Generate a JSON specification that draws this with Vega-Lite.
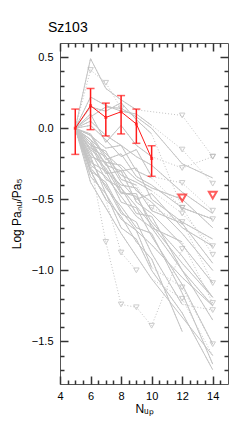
{
  "$schema": "https://vega.github.io/schema/vega-lite/v6.json",
  "autosize": "none",
  "width": 168,
  "height": 341,
  "padding": {"left": 60, "top": 43, "right": 12, "bottom": 44},
  "background": "white",
  "config": {
    "view": {"stroke": "#555555", "strokeWidth": 1},
    "axis": {"grid": false, "domain": false, "zindex": 1, "labelColor": "#000000", "titleColor": "#000000", "labelFont": "Liberation Sans", "titleFont": "Liberation Sans", "titleFontWeight": "normal", "labelFontSize": 11, "titleFontSize": 12}
  },
  "title": {"text": "Sz103", "anchor": "start", "frame": "group", "dx": -12, "offset": 7, "fontSize": 14, "fontWeight": "normal", "font": "Liberation Sans", "color": "#000000"},
  "datasets": {
    "g": [
      {"s":1,"x":5,"y":0,"u":0},{"s":1,"x":6,"y":0.49,"u":0},{"s":1,"x":7,"y":0.28,"u":0},{"s":1,"x":8,"y":0.2,"u":0},{"s":1,"x":9,"y":0.13,"u":0},{"s":1,"x":12,"y":0.09,"u":1},{"s":1,"x":14,"y":-0.2,"u":1},
      {"s":2,"x":5,"y":0,"u":0},{"s":2,"x":6,"y":0.41,"u":1},{"s":2,"x":7,"y":0.32,"u":1},{"s":2,"x":8,"y":0.14,"u":1},
      {"s":3,"x":5,"y":0,"u":0},{"s":3,"x":6,"y":0.22,"u":0},{"s":3,"x":7,"y":0.16,"u":0},{"s":3,"x":8,"y":0.12,"u":0},{"s":3,"x":9,"y":0.1,"u":0},{"s":3,"x":10,"y":0.02,"u":0},{"s":3,"x":12,"y":-0.15,"u":1},{"s":3,"x":14,"y":-0.39,"u":1},
      {"s":4,"x":5,"y":0,"u":0},{"s":4,"x":6,"y":0.1,"u":0},{"s":4,"x":7,"y":-0.1,"u":0},{"s":4,"x":8,"y":0.02,"u":0},{"s":4,"x":9,"y":-0.12,"u":0},{"s":4,"x":10,"y":-0.2,"u":0},{"s":4,"x":12,"y":-0.28,"u":1},{"s":4,"x":14,"y":-0.2,"u":1},
      {"s":5,"x":5,"y":0,"u":0},{"s":5,"x":6,"y":0.02,"u":0},{"s":5,"x":7,"y":-0.08,"u":0},{"s":5,"x":8,"y":-0.2,"u":0},{"s":5,"x":9,"y":-0.15,"u":0},{"s":5,"x":10,"y":-0.34,"u":0},{"s":5,"x":12,"y":-0.385,"u":1},{"s":5,"x":14,"y":-0.58,"u":1},
      {"s":6,"x":5,"y":0,"u":0},{"s":6,"x":6,"y":-0.05,"u":0},{"s":6,"x":7,"y":-0.22,"u":0},{"s":6,"x":8,"y":-0.18,"u":0},{"s":6,"x":9,"y":-0.34,"u":0},{"s":6,"x":10,"y":-0.4,"u":0},{"s":6,"x":12,"y":-0.56,"u":0},{"s":6,"x":14,"y":-0.64,"u":0},
      {"s":7,"x":5,"y":0,"u":0},{"s":7,"x":6,"y":-0.08,"u":0},{"s":7,"x":7,"y":-0.26,"u":0},{"s":7,"x":8,"y":-0.3,"u":0},{"s":7,"x":9,"y":-0.28,"u":0},{"s":7,"x":10,"y":-0.5,"u":0},{"s":7,"x":12,"y":-0.66,"u":0},{"s":7,"x":14,"y":-0.78,"u":0},
      {"s":8,"x":5,"y":0,"u":0},{"s":8,"x":6,"y":-0.14,"u":0},{"s":8,"x":7,"y":-0.2,"u":0},{"s":8,"x":8,"y":-0.38,"u":0},{"s":8,"x":9,"y":-0.5,"u":0},{"s":8,"x":10,"y":-0.46,"u":0},{"s":8,"x":12,"y":-0.7,"u":0},{"s":8,"x":14,"y":-0.83,"u":0},
      {"s":9,"x":5,"y":0,"u":0},{"s":9,"x":6,"y":-0.12,"u":0},{"s":9,"x":7,"y":-0.32,"u":0},{"s":9,"x":8,"y":-0.3,"u":0},{"s":9,"x":9,"y":-0.52,"u":0},{"s":9,"x":10,"y":-0.6,"u":0},{"s":9,"x":12,"y":-0.82,"u":0},{"s":9,"x":14,"y":-1.09,"u":0},
      {"s":10,"x":5,"y":0,"u":0},{"s":10,"x":6,"y":-0.2,"u":0},{"s":10,"x":7,"y":-0.24,"u":0},{"s":10,"x":8,"y":-0.45,"u":0},{"s":10,"x":9,"y":-0.48,"u":0},{"s":10,"x":10,"y":-0.66,"u":0},{"s":10,"x":12,"y":-0.9,"u":0},{"s":10,"x":14,"y":-1.19,"u":0},
      {"s":11,"x":5,"y":0,"u":0},{"s":11,"x":6,"y":-0.16,"u":0},{"s":11,"x":7,"y":-0.36,"u":0},{"s":11,"x":8,"y":-0.42,"u":0},{"s":11,"x":9,"y":-0.6,"u":0},{"s":11,"x":10,"y":-0.62,"u":0},{"s":11,"x":12,"y":-1.0,"u":0},{"s":11,"x":14,"y":-1.25,"u":0},
      {"s":12,"x":5,"y":0,"u":0},{"s":12,"x":6,"y":-0.24,"u":0},{"s":12,"x":7,"y":-0.3,"u":0},{"s":12,"x":8,"y":-0.52,"u":0},{"s":12,"x":9,"y":-0.56,"u":0},{"s":12,"x":10,"y":-0.76,"u":0},{"s":12,"x":12,"y":-1.1,"u":0},{"s":12,"x":14,"y":-1.52,"u":0},
      {"s":13,"x":5,"y":0,"u":0},{"s":13,"x":6,"y":-0.22,"u":0},{"s":13,"x":7,"y":-0.42,"u":0},{"s":13,"x":8,"y":-0.55,"u":0},{"s":13,"x":9,"y":-0.7,"u":0},{"s":13,"x":10,"y":-0.74,"u":0},{"s":13,"x":12,"y":-1.16,"u":0},{"s":13,"x":14,"y":-1.66,"u":0},
      {"s":14,"x":5,"y":0,"u":0},{"s":14,"x":6,"y":-0.28,"u":0},{"s":14,"x":7,"y":-0.4,"u":0},{"s":14,"x":8,"y":-0.6,"u":0},{"s":14,"x":9,"y":-0.66,"u":0},{"s":14,"x":10,"y":-0.88,"u":0},{"s":14,"x":12,"y":-1.24,"u":0},{"s":14,"x":14,"y":-1.28,"u":1},
      {"s":15,"x":5,"y":0,"u":0},{"s":15,"x":6,"y":-0.3,"u":0},{"s":15,"x":7,"y":-0.5,"u":0},{"s":15,"x":8,"y":-0.62,"u":0},{"s":15,"x":9,"y":-0.8,"u":0},{"s":15,"x":10,"y":-0.92,"u":0},{"s":15,"x":12,"y":-1.43,"u":0},
      {"s":16,"x":5,"y":0,"u":0},{"s":16,"x":6,"y":-0.34,"u":0},{"s":16,"x":7,"y":-0.46,"u":0},{"s":16,"x":8,"y":-0.7,"u":0},{"s":16,"x":9,"y":-0.78,"u":0},{"s":16,"x":10,"y":-1.0,"u":0},{"s":16,"x":12,"y":-1.3,"u":0},{"s":16,"x":14,"y":-1.7,"u":0},
      {"s":17,"x":5,"y":0,"u":0},{"s":17,"x":6,"y":-0.25,"u":0},{"s":17,"x":7,"y":-0.8,"u":1},{"s":17,"x":8,"y":-1.24,"u":1},{"s":17,"x":9,"y":-1.26,"u":1},{"s":17,"x":10,"y":-1.39,"u":1},{"s":17,"x":12,"y":-0.85,"u":1},
      {"s":18,"x":5,"y":0,"u":0},{"s":18,"x":6,"y":-0.3,"u":0},{"s":18,"x":7,"y":-0.5,"u":0},{"s":18,"x":8,"y":-0.875,"u":1},{"s":18,"x":9,"y":-1.0,"u":1},
      {"s":20,"x":5,"y":0,"u":0},{"s":20,"x":6,"y":-0.05,"u":0},{"s":20,"x":7,"y":-0.14,"u":0},{"s":20,"x":8,"y":-0.12,"u":0},{"s":20,"x":9,"y":-0.3,"u":0},{"s":20,"x":10,"y":-0.35,"u":0},{"s":20,"x":12,"y":-0.56,"u":1},{"s":20,"x":14,"y":-0.89,"u":1},
      {"s":21,"x":5,"y":0,"u":0},{"s":21,"x":6,"y":-0.1,"u":0},{"s":21,"x":7,"y":-0.3,"u":0},{"s":21,"x":8,"y":-0.4,"u":0},{"s":21,"x":9,"y":-0.42,"u":0},{"s":21,"x":10,"y":-0.58,"u":0},{"s":21,"x":12,"y":-0.67,"u":0},{"s":21,"x":14,"y":-0.95,"u":0},
      {"s":22,"x":5,"y":0,"u":0},{"s":22,"x":6,"y":-0.18,"u":0},{"s":22,"x":7,"y":-0.28,"u":0},{"s":22,"x":8,"y":-0.46,"u":0},{"s":22,"x":9,"y":-0.46,"u":0},{"s":22,"x":10,"y":-0.7,"u":0},{"s":22,"x":12,"y":-0.8,"u":0},{"s":22,"x":14,"y":-1.23,"u":1},
      {"s":23,"x":5,"y":0,"u":0},{"s":23,"x":6,"y":-0.08,"u":0},{"s":23,"x":7,"y":-0.18,"u":0},{"s":23,"x":8,"y":-0.28,"u":0},{"s":23,"x":9,"y":-0.44,"u":0},{"s":23,"x":10,"y":-0.52,"u":0},{"s":23,"x":12,"y":-0.74,"u":0},{"s":23,"x":14,"y":-1.0,"u":0},
      {"s":24,"x":5,"y":0,"u":0},{"s":24,"x":6,"y":-0.26,"u":0},{"s":24,"x":7,"y":-0.34,"u":0},{"s":24,"x":8,"y":-0.48,"u":0},{"s":24,"x":9,"y":-0.62,"u":0},{"s":24,"x":10,"y":-0.7,"u":0},{"s":24,"x":12,"y":-1.0,"u":0},{"s":24,"x":14,"y":-1.35,"u":0},
      {"s":25,"x":5,"y":0,"u":0},{"s":25,"x":6,"y":-0.04,"u":0},{"s":25,"x":7,"y":-0.2,"u":0},{"s":25,"x":8,"y":-0.33,"u":0},{"s":25,"x":9,"y":-0.38,"u":0},{"s":25,"x":10,"y":-0.44,"u":0},{"s":25,"x":12,"y":-0.6,"u":1},{"s":25,"x":14,"y":-0.83,"u":1},
      {"s":26,"x":5,"y":0,"u":0},{"s":26,"x":6,"y":-0.15,"u":0},{"s":26,"x":7,"y":-0.24,"u":0},{"s":26,"x":8,"y":-0.26,"u":0},{"s":26,"x":9,"y":-0.36,"u":0},{"s":26,"x":10,"y":-0.42,"u":0},{"s":26,"x":12,"y":-0.5,"u":0},{"s":26,"x":14,"y":-0.7,"u":0},
      {"s":27,"x":5,"y":0,"u":0},{"s":27,"x":6,"y":0.05,"u":0},{"s":27,"x":7,"y":-0.05,"u":0},{"s":27,"x":8,"y":-0.12,"u":0},{"s":27,"x":9,"y":-0.2,"u":0},{"s":27,"x":10,"y":-0.26,"u":0},{"s":27,"x":12,"y":-0.45,"u":0},{"s":27,"x":14,"y":-0.6,"u":0},
      {"s":28,"x":5,"y":0,"u":0},{"s":28,"x":6,"y":-0.3,"u":0},{"s":28,"x":7,"y":-0.38,"u":0},{"s":28,"x":8,"y":-0.58,"u":0},{"s":28,"x":9,"y":-0.72,"u":0},{"s":28,"x":10,"y":-0.82,"u":0},{"s":28,"x":12,"y":-1.05,"u":0},{"s":28,"x":14,"y":-1.25,"u":0},
      {"s":29,"x":5,"y":0,"u":0},{"s":29,"x":6,"y":-0.1,"u":0},{"s":29,"x":7,"y":-0.25,"u":0},{"s":29,"x":8,"y":-0.42,"u":0},{"s":29,"x":9,"y":-0.55,"u":0},{"s":29,"x":10,"y":-0.68,"u":0},{"s":29,"x":12,"y":-0.95,"u":0},{"s":29,"x":14,"y":-1.19,"u":0},
      {"s":30,"x":5,"y":0,"u":0},{"s":30,"x":6,"y":0.15,"u":0},{"s":30,"x":7,"y":0.12,"u":0},{"s":30,"x":8,"y":0.18,"u":0},{"s":30,"x":9,"y":0.06,"u":0},{"s":30,"x":10,"y":-0.04,"u":0},{"s":30,"x":12,"y":-0.56,"u":1},{"s":30,"x":14,"y":-0.64,"u":1},
      {"s":31,"x":5,"y":0,"u":0},{"s":31,"x":6,"y":0.08,"u":0},{"s":31,"x":7,"y":0.15,"u":0},{"s":31,"x":8,"y":0.14,"u":0},{"s":31,"x":9,"y":0.08,"u":0},{"s":31,"x":10,"y":0.0,"u":0},{"s":31,"x":12,"y":-0.25,"u":0},{"s":31,"x":14,"y":-0.35,"u":0},
      {"s":32,"x":5,"y":0,"u":0},{"s":32,"x":6,"y":-0.38,"u":0},{"s":32,"x":7,"y":-0.56,"u":0},{"s":32,"x":8,"y":-0.74,"u":0},{"s":32,"x":9,"y":-0.9,"u":0},{"s":32,"x":10,"y":-1.06,"u":0},{"s":32,"x":12,"y":-1.2,"u":1},{"s":32,"x":14,"y":-1.6,"u":0},
      {"s":33,"x":5,"y":0,"u":0},{"s":33,"x":6,"y":-0.2,"u":0},{"s":33,"x":7,"y":-0.46,"u":0},{"s":33,"x":8,"y":-0.64,"u":0},{"s":33,"x":9,"y":-0.72,"u":0},{"s":33,"x":10,"y":-0.98,"u":0},{"s":33,"x":12,"y":-1.12,"u":1},{"s":33,"x":14,"y":-1.52,"u":1},
      {"s":34,"x":5,"y":0,"u":0},{"s":34,"x":6,"y":-0.12,"u":0},{"s":34,"x":7,"y":-0.16,"u":0},{"s":34,"x":8,"y":-0.36,"u":0},{"s":34,"x":9,"y":-0.4,"u":0},{"s":34,"x":10,"y":-0.56,"u":1},{"s":34,"x":12,"y":-0.66,"u":1},{"s":34,"x":14,"y":-1.09,"u":1}
    ],
    "r": [
      {"x":5,"y":0.0,"lo":-0.184,"hi":0.135},
      {"x":6,"y":0.159,"lo":-0.01,"hi":0.28},
      {"x":7,"y":0.076,"lo":-0.054,"hi":0.177},
      {"x":8,"y":0.116,"lo":-0.04,"hi":0.23},
      {"x":9,"y":0.03,"lo":-0.106,"hi":0.135},
      {"x":10,"y":-0.213,"lo":-0.338,"hi":-0.123}
    ],
    "rl": [
      {"x":12,"y":-0.49},
      {"x":14,"y":-0.47}
    ]
  },
  "resolve": {"axis": {"x": "independent", "y": "independent"}},
  "layer": [
    {
      "data": {"name": "g"},
      "mark": {"type": "line", "color": "#c4c4c4", "strokeWidth": 1, "strokeDash": [1, 2]},
      "encoding": {
        "x": {"field": "x", "type": "quantitative", "scale": {"domain": [4, 15], "nice": false, "zero": false},
              "axis": {"orient": "bottom", "values": [4, 6, 8, 10, 12, 14], "tickSize": -8, "tickColor": "#333333", "tickWidth": 1.5, "labelPadding": 14, "title": "Nᵤₚ", "titlePadding": 2, "labelFlush": false}},
        "y": {"field": "y", "type": "quantitative", "scale": {"domain": [-1.8, 0.6], "nice": false, "zero": false},
              "axis": {"orient": "left", "values": [-1.5, -1, -0.5, 0, 0.5], "format": ".1f", "tickSize": -8, "tickColor": "#333333", "tickWidth": 1.5, "labelPadding": 15, "title": "Log Paₙᵤ/Pa₅", "titlePadding": 8}},
        "detail": {"field": "s"},
        "order": {"field": "x"}
      }
    },
    {
      "data": {"name": "g"},
      "transform": [{"filter": "datum.u == 0"}],
      "mark": {"type": "line", "color": "#c4c4c4", "strokeWidth": 1},
      "encoding": {
        "x": {"field": "x", "type": "quantitative", "axis": {"orient": "top", "values": [4, 6, 8, 10, 12, 14], "labels": false, "tickSize": -8, "tickColor": "#333333", "tickWidth": 1.5, "title": null}},
        "y": {"field": "y", "type": "quantitative", "axis": {"orient": "right", "values": [-1.5, -1, -0.5, 0, 0.5], "labels": false, "tickSize": -8, "tickColor": "#333333", "tickWidth": 1.5, "title": null}},
        "detail": {"field": "s"},
        "order": {"field": "x"}
      }
    },
    {
      "data": {"name": "g"},
      "transform": [{"filter": "datum.u == 1"}],
      "mark": {"type": "point", "shape": "triangle-down", "color": "#b8b8b8", "filled": false, "size": 30, "strokeWidth": 1},
      "encoding": {
        "x": {"field": "x", "type": "quantitative", "axis": {"orient": "bottom", "values": [4.5, 5, 5.5, 6.5, 7, 7.5, 8.5, 9, 9.5, 10.5, 11, 11.5, 12.5, 13, 13.5, 14.5], "labels": false, "tickSize": -4, "tickColor": "#333333", "tickWidth": 1.5, "title": null}},
        "y": {"field": "y", "type": "quantitative", "axis": {"orient": "left", "values": [-1.7, -1.6, -1.4, -1.3, -1.2, -1.1, -0.9, -0.8, -0.7, -0.6, -0.4, -0.3, -0.2, -0.1, 0.1, 0.2, 0.3, 0.4], "labels": false, "tickSize": -4, "tickColor": "#333333", "tickWidth": 1.5, "title": null}}
      }
    },
    {
      "data": {"name": "r"},
      "mark": {"type": "rule", "color": "#ff1a1a", "strokeWidth": 1.5},
      "encoding": {
        "x": {"field": "x", "type": "quantitative", "axis": {"orient": "top", "values": [4.5, 5, 5.5, 6.5, 7, 7.5, 8.5, 9, 9.5, 10.5, 11, 11.5, 12.5, 13, 13.5, 14.5], "labels": false, "tickSize": -4, "tickColor": "#333333", "tickWidth": 1.5, "title": null}},
        "y": {"field": "lo", "type": "quantitative", "axis": {"orient": "right", "values": [-1.7, -1.6, -1.4, -1.3, -1.2, -1.1, -0.9, -0.8, -0.7, -0.6, -0.4, -0.3, -0.2, -0.1, 0.1, 0.2, 0.3, 0.4], "labels": false, "tickSize": -4, "tickColor": "#333333", "tickWidth": 1.5, "title": null}},
        "y2": {"field": "hi"}
      }
    },
    {
      "data": {"name": "r"},
      "mark": {"type": "tick", "orient": "horizontal", "color": "#ff1a1a", "size": 8, "thickness": 1.5},
      "encoding": {
        "x": {"field": "x", "type": "quantitative", "axis": null},
        "y": {"field": "lo", "type": "quantitative", "axis": null}
      }
    },
    {
      "data": {"name": "r"},
      "mark": {"type": "tick", "orient": "horizontal", "color": "#ff1a1a", "size": 8, "thickness": 1.5},
      "encoding": {
        "x": {"field": "x", "type": "quantitative", "axis": null},
        "y": {"field": "hi", "type": "quantitative", "axis": null}
      }
    },
    {
      "data": {"name": "r"},
      "mark": {"type": "line", "color": "#ff1a1a", "strokeWidth": 1},
      "encoding": {
        "x": {"field": "x", "type": "quantitative", "axis": null},
        "y": {"field": "y", "type": "quantitative", "axis": null}
      }
    },
    {
      "data": {"name": "r"},
      "mark": {"type": "point", "shape": "square", "color": "#ff1a1a", "filled": true, "size": 9},
      "encoding": {
        "x": {"field": "x", "type": "quantitative", "axis": null},
        "y": {"field": "y", "type": "quantitative", "axis": null}
      }
    },
    {
      "data": {"name": "rl"},
      "mark": {"type": "point", "shape": "triangle-down", "color": "#ff1a1a", "filled": false, "size": 60, "strokeWidth": 2},
      "encoding": {
        "x": {"field": "x", "type": "quantitative", "axis": null},
        "y": {"field": "y", "type": "quantitative", "axis": null}
      }
    },
    {
      "mark": {"type": "text", "text": "Type C", "align": "left", "baseline": "alphabetic", "fontSize": 15, "font": "Liberation Sans", "color": "#000000"},
      "encoding": {
        "x": {"datum": 10.37, "type": "quantitative", "axis": null},
        "y": {"datum": 0.345, "type": "quantitative", "axis": null}
      }
    },
    {
      "mark": {"type": "text", "text": "4/36", "align": "left", "baseline": "alphabetic", "fontSize": 11, "font": "Liberation Sans", "color": "#000000"},
      "encoding": {
        "x": {"datum": 10.37, "type": "quantitative", "axis": null},
        "y": {"datum": 0.207, "type": "quantitative", "axis": null}
      }
    }
  ]
}
